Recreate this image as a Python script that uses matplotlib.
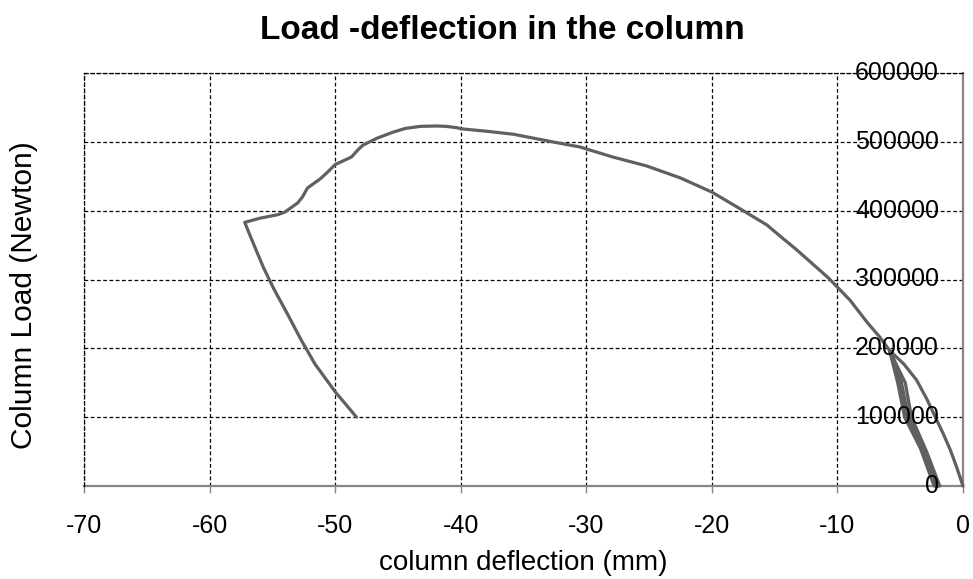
import matplotlib
matplotlib.use("Agg")
import matplotlib.pyplot as plt
import matplotlib.transforms as mtransforms

plt.rcParams['font.family'] = ['Liberation Sans', 'DejaVu Sans']

# ---- data (deflection mm, load N) ----
outer_x = [0.0, -0.5, -1.0, -1.6, -2.2, -2.9, -3.7, -4.7, -5.85]
outer_y = [0, 27000, 52000, 77000, 100000, 127000, 154000, 177000, 197000]

strand_l_x = [-5.85, -5.2, -4.65, -3.4, -2.3]
strand_l_y = [197000, 150000, 100000, 55000, 0]
strand_r_x = [-1.85, -2.9, -4.1, -4.6, -5.85]
strand_r_y = [0, 50000, 100000, 150000, 197000]
strand_m_x = [-5.85, -4.9, -4.35, -3.1, -2.05]
strand_m_y = [197000, 150000, 100000, 52000, 0]
strand_m2_x = [-2.15, -3.2, -4.45, -5.0, -5.85]
strand_m2_y = [0, 52000, 100000, 150000, 197000]

main_x = [-5.85, -6.7, -7.6, -9.0, -10.7, -12.0, -13.3, -14.5, -15.6, -17.5, -20.0, -22.5,
          -25.2, -27.9, -30.5, -32.7, -35.8, -38.0, -40.0, -40.3, -41.2, -41.9, -43.2, -44.4,
          -45.4, -46.7, -47.8, -48.2, -48.7, -49.4, -50.0, -50.6, -51.2, -52.2, -52.6,
          -53.0, -54.0, -54.6, -56.0, -57.2, -56.8, -56.3, -55.7, -54.9, -53.8, -52.7,
          -51.6, -50.0, -48.3]
main_y = [197000, 218000, 237000, 270000, 302000, 323000, 344000, 362000, 379000, 400000,
          427000, 447500, 465000, 478000, 492500, 500000, 511000, 515500, 519000, 520500,
          522500, 523000, 522500, 519500, 514000, 505000, 495000, 488000, 478000, 472000,
          467000, 456000, 446000, 433000, 420000, 411000, 398000, 394000, 389000, 383000,
          365000, 343000, 317000, 287000, 250000, 212000, 177000, 137000, 100000]

x_ticks = [-70, -60, -50, -40, -30, -20, -10, 0]
y_ticks = [0, 100000, 200000, 300000, 400000, 500000, 600000]

x_all = outer_x + strand_l_x + strand_r_x + strand_m_x + strand_m2_x + main_x
y_all = outer_y + strand_l_y + strand_r_y + strand_m_y + strand_m2_y + main_y

W, H = 973, 579
fig = plt.figure(figsize=(W / 100, H / 100), dpi=100)
ax = fig.add_axes([84 / W, (H - 486) / H, (963 - 84) / W, (486 - 73) / H])

ax.plot(x_all, y_all, color='#606060', lw=2.3, solid_joinstyle='round',
        solid_capstyle='round', clip_on=False, zorder=3)

ax.set_xlim(-70, 0)
ax.set_ylim(0, 600000)
ax.set_xticks(x_ticks)
ax.set_yticks(y_ticks)
ax.set_xticklabels([str(v) for v in x_ticks])
ax.set_yticklabels([])

# grid: black dashed
ax.grid(True, color='black', linestyle=(0, (3, 2)), linewidth=0.9, zorder=1)
ax.set_axisbelow(True)

for s in ['top', 'left']:
    ax.spines[s].set_color('black')
    ax.spines[s].set_linestyle((0, (3, 2)))
    ax.spines[s].set_linewidth(0.9)
for s in ['right', 'bottom']:
    ax.spines[s].set_color('#868686')
    ax.spines[s].set_linewidth(1.6)
    ax.spines[s].set_zorder(2)

ax.tick_params(axis='x', direction='out', length=5, width=1, color='#868686',
               labelsize=18, pad=15)
ax.yaxis.set_ticks_position('right')
ax.tick_params(axis='y', length=0, labelright=False, labelleft=False)

# y tick labels sit just left of the y axis (at x = 0)
ylab_tr = mtransforms.blended_transform_factory(ax.transAxes, ax.transData) + \
    mtransforms.ScaledTranslation(-24 / 100, 0, fig.dpi_scale_trans)
for v in y_ticks:
    ax.text(1.0, v, str(v), transform=ylab_tr, ha='right', va='center',
            fontsize=18, zorder=4, clip_on=False)

ax.set_xlabel('column deflection (mm)', fontsize=20, labelpad=9)
fig.text(24 / W, 1 - 295 / H, 'Column Load (Newton)', rotation=90,
         fontsize=21.5, ha='center', va='center')
fig.text(502 / W, 1 - 39 / H, 'Load -deflection in the column',
         fontsize=24, fontweight='bold', ha='center', va='baseline')

fig.savefig('out.png', dpi=100)
